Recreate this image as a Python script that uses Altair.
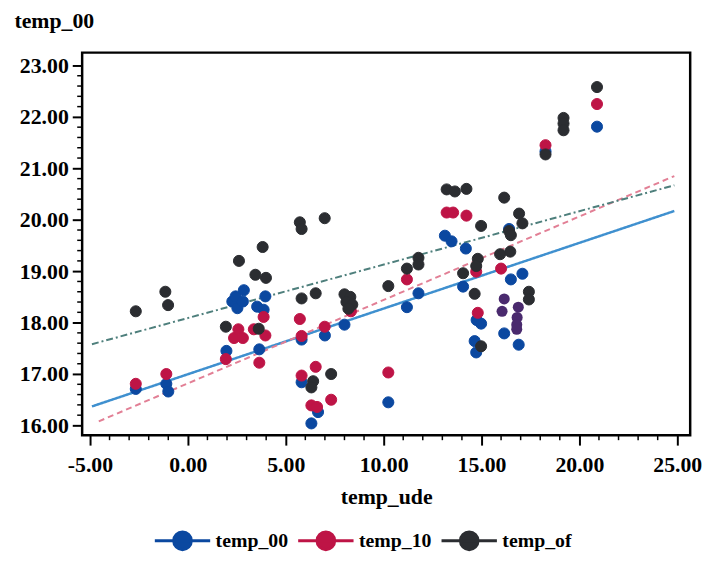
import altair as alt
import pandas as pd

# ---------------- data ----------------
series_names = ["temp_00", "temp_10", "temp_of"]
series_colors = ["#0b48a0", "#be1446", "#2b2d31"]

x_00 = [-2.66, -1.10, -1.00, 1.97, 2.27, 2.44, 2.53, 2.81, 2.86, 3.54, 3.87, 3.96, 3.65,
        5.81, 7.00, 5.81, 6.65, 6.31, 8.00, 10.24, 11.19, 11.78, 13.13, 13.47, 14.20,
        14.06, 14.75, 14.98, 14.65, 14.73, 16.50, 17.09, 16.16, 16.90, 16.41, 18.27, 20.90]
y_00 = [16.71, 16.81, 16.66, 17.45, 18.41, 18.51, 18.28, 18.41, 18.63, 18.31, 18.25, 18.51, 17.48,
        17.67, 17.75, 16.84, 16.26, 16.04, 17.96, 16.45, 18.30, 18.57, 19.69, 19.58, 19.44,
        18.70, 18.05, 17.98, 17.64, 17.42, 18.84, 18.95, 17.79, 17.57, 19.82, 21.33, 21.81]

x_10 = [-2.66, -1.10, 1.94, 2.36, 2.58, 2.81, 3.37, 3.87, 3.96, 3.65, 5.72, 5.81, 6.99,
        6.53, 5.81, 7.32, 6.31, 6.60, 8.33, 10.24, 11.19, 13.22, 13.55, 14.23, 14.73,
        14.81, 16.00, 18.27, 20.90]
y_10 = [16.81, 17.00, 17.29, 17.70, 17.87, 17.70, 17.87, 18.11, 17.75, 17.22, 18.07, 17.74, 17.92,
        17.14, 16.97, 16.50, 16.39, 16.36, 18.22, 17.03, 18.84, 20.14, 20.14, 20.08, 18.99,
        18.19, 19.05, 21.45, 22.25]

x_of = [-2.66, -1.15, -1.01, 1.94, 2.61, 3.82, 3.45, 3.99, 3.62, 5.72, 5.81, 6.99, 5.81,
        6.53, 6.40, 6.31, 7.32, 8.00, 8.30, 8.10, 8.40, 8.20, 10.24, 11.19, 11.78, 11.78,
        13.22, 13.64, 14.23, 14.98, 16.16, 14.06, 14.81, 14.73, 14.65, 14.98, 15.95, 16.47,
        16.92, 17.09, 16.41, 16.50, 17.42, 17.42, 18.27, 19.19, 19.19, 19.19, 20.90]
y_of = [18.22, 18.60, 18.34, 17.92, 19.20, 19.47, 18.93, 18.87, 17.88, 19.95, 19.82, 20.03, 18.47,
        18.57, 16.86, 16.74, 17.00, 18.55, 18.50, 18.40, 18.35, 18.27, 18.71, 19.05, 19.26, 19.13,
        20.59, 20.55, 20.60, 19.88, 20.43, 18.96, 19.24, 19.10, 18.56, 17.54, 19.33, 19.38,
        20.12, 19.93, 19.78, 19.70, 18.60, 18.45, 21.27, 21.98, 21.87, 21.74, 22.58]

# points where temp_00 and temp_10 coincide (drawn purple in the picture)
x_both = [16.16, 16.05, 16.88, 16.82, 16.80, 16.80]
y_both = [18.46, 18.22, 18.30, 18.10, 17.96, 17.87]

# fitted lines, end points
fit_x_00 = [-4.90, 24.85]
fit_y_00 = [16.37, 20.17]
fit_x_10 = [-4.55, 24.85]
fit_y_10 = [16.08, 20.85]
fit_x_of = [-4.90, 24.85]
fit_y_of = [17.58, 20.67]

# axis ticks
x_major = [-5, 0, 5, 10, 15, 20, 25]
y_major = [16, 17, 18, 19, 20, 21, 22, 23]
x_minor = [v for v in range(-5, 26) if v % 5 != 0]
y_minor = [round(16 + 0.2 * i, 1) for i in range(36) if i % 5 != 0]

X_DOMAIN = [-5.4, 25.66]
Y_DOMAIN = [15.81, 23.25]
W, H = 615, 387

# ---------------- tables ----------------
rows = []
for name, xs, ys in zip(series_names, [x_00, x_10, x_of], [y_00, y_10, y_of]):
    rows += [{"temp_ude": a, "value": b, "series": name} for a, b in zip(xs, ys)]
points_df = pd.DataFrame(rows)
both_df = pd.DataFrame({"temp_ude": x_both, "value": y_both})

FONT = "Liberation Serif"
xscale = alt.Scale(domain=X_DOMAIN, nice=False, zero=False)
yscale = alt.Scale(domain=Y_DOMAIN, nice=False, zero=False)
cscale = alt.Scale(domain=series_names, range=series_colors)

SYMBOL = ("M-1,0L1,0M0.32,0A0.32,0.32,0,1,1,-0.32,0"
          "A0.32,0.32,0,1,1,0.32,0Z")

legend = alt.Legend(
    title=None, orient="none", legendX=72, legendY=464, direction="horizontal",
    symbolType=SYMBOL, symbolSize=3136, symbolStrokeWidth=3, symbolOpacity=1,
    labelFont=FONT, labelFontSize=20, labelFontWeight="bold", labelColor="black",
    labelOffset=4, columnPadding=3, padding=0,
)

# plain hyphen for negative numbers, two decimals
FMT = "(datum.value < 0 ? '-' : '') + format(abs(datum.value), '.2f')"

x_axis = alt.Axis(
    values=x_major, title="temp_ude", orient="bottom", labelExpr=FMT,
    tickSize=10, tickWidth=2, tickColor="black", domain=False, grid=False,
    labelFlush=False,
    labelFont=FONT, labelFontSize=22, labelFontWeight="bold", labelColor="black",
    labelPadding=10,
    titleFont=FONT, titleFontSize=22, titleFontWeight="bold", titleColor="black",
    titleY=62, titleBaseline="middle",
)
y_axis = alt.Axis(
    values=y_major, title="temp_00", orient="left", labelExpr=FMT,
    tickSize=10, tickWidth=2, tickColor="black", domain=False, grid=False,
    labelFlush=False,
    labelFont=FONT, labelFontSize=22, labelFontWeight="bold", labelColor="black",
    labelPadding=4,
    titleFont=FONT, titleFontSize=22, titleFontWeight="bold", titleColor="black",
    titleAngle=0, titleX=-69, titleY=-32, titleAlign="left", titleBaseline="middle",
)


def fit_layer(xs, ys, color, dash, width):
    df = pd.DataFrame({"temp_ude": xs, "value": ys})
    return alt.Chart(df).mark_line(color=color, strokeDash=dash, strokeWidth=width).encode(
        x=alt.X("temp_ude:Q", scale=xscale, axis=None),
        y=alt.Y("value:Q", scale=yscale, axis=None),
    )


points = alt.Chart(points_df).mark_point(filled=True, size=125, opacity=1, strokeWidth=1).encode(
    x=alt.X("temp_ude:Q", scale=xscale, axis=x_axis),
    y=alt.Y("value:Q", scale=yscale, axis=y_axis),
    fill=alt.Fill("series:N", scale=cscale, legend=legend),
    stroke=alt.Stroke("series:N", scale=cscale, legend=legend),
)

both = alt.Chart(both_df).mark_point(filled=True, size=125, opacity=1, color="#4a2a6e").encode(
    x=alt.X("temp_ude:Q", scale=xscale, axis=None),
    y=alt.Y("value:Q", scale=yscale, axis=None),
)

# minor ticks along the axes
minor_x = alt.Chart(pd.DataFrame({"t": x_minor})).mark_rule(
    color="black", strokeWidth=1.5).encode(
    x=alt.X("t:Q", scale=xscale, axis=None),
    y=alt.value(H), y2=alt.value(H + 5),
)
minor_y = alt.Chart(pd.DataFrame({"t": y_minor})).mark_rule(
    color="black", strokeWidth=1.5).encode(
    y=alt.Y("t:Q", scale=yscale, axis=None),
    x=alt.value(0), x2=alt.value(-5),
)

line_00 = fit_layer(fit_x_00, fit_y_00, "#3f90cf", [1, 0], 2.5)
line_10 = fit_layer(fit_x_10, fit_y_10, "#e27f95", [6, 4], 2)
line_of = fit_layer(fit_x_of, fit_y_of, "#4e7f7c", [7, 3, 2, 3], 2)

chart = alt.layer(
    line_00, line_10, line_of, points, both, minor_x, minor_y
).resolve_axis(
    x="independent", y="independent"
).properties(
    width=W, height=H,
    padding={"left": 75, "top": 42, "right": 16, "bottom": 116},
    autosize=alt.AutoSizeParams(type="none"),
    background="white",
).configure_view(
    stroke="black", strokeWidth=2.5
)

chart.save("out.html", embed_options={"renderer": "svg", "actions": False})
